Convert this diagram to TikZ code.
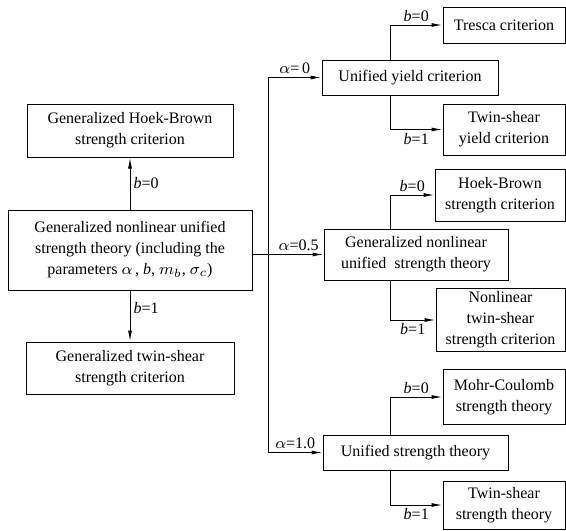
\documentclass[tikz,border=0pt]{standalone}
\usepackage{fontspec}
\setmainfont{Liberation Serif}
\usetikzlibrary{arrows.meta,positioning}

\begin{document}
\begin{tikzpicture}[x=0.5pt,y=-0.5pt,>={Latex[length=5.5pt,width=2pt]},font=\fontsize{8}{10.5}\selectfont]
            \tikzstyle{box}=[draw,rectangle,align=center,inner sep=0pt,line width=0.5pt]
            \tikzstyle{line}=[line width=0.5pt]
            \tikzstyle{lab}=[inner sep=1.5pt]
            \useasboundingbox (0,0) rectangle (566,530);

            % left column
            \node[box,minimum width=103pt,minimum height=26.5pt]  (ghb)    at (130,130.5) {Generalized Hoek-Brown\\strength criterion};
            \node[box,minimum width=122pt,minimum height=40pt]    (main)   at (130,250)   {Generalized nonlinear unified\\strength theory (including the\\parameters $\alpha$\,, \textit{b}, $m_b$, $\sigma_c$)};
            \node[box,minimum width=104pt,minimum height=26pt]    (gts)    at (130,368)   {Generalized twin-shear\\strength criterion};

            % middle column
            \node[box,minimum width=88pt,minimum height=17.5pt]   (uyc)    at (410,77.5)  {Unified yield criterion};
            \node[box,minimum width=92pt,minimum height=25.5pt]   (gnu)    at (416,254.5) {Generalized nonlinear\\unified\ \ strength theory};
            \node[box,minimum width=92.5pt,minimum height=17.5pt] (ust)    at (415.5,452.5) {Unified strength theory};

            % right column
            \node[box,minimum width=61pt,minimum height=18pt]     (tresca) at (504,25)    {Tresca criterion};
            \node[box,minimum width=61pt,minimum height=25.5pt]   (tsy)    at (504,129.5) {Twin-shear\\yield criterion};
            \node[box,minimum width=65pt,minimum height=26pt]     (hb)     at (500,195)   {Hoek-Brown\\strength criterion};
            \node[box,minimum width=64.5pt,minimum height=31.5pt] (ntw)    at (500.5,320) {Nonlinear\\twin-shear\\strength criterion};
            \node[box,minimum width=61pt,minimum height=27.5pt]   (mc)     at (504,397)   {Mohr-Coulomb\\strength theory};
            \node[box,minimum width=61pt,minimum height=24pt]     (tss)    at (504,505)   {Twin-shear\\strength theory};

            \coordinate (jmid) at (268,254.5);
            \coordinate (fork) at (390,0);

            % b from the main box
            \draw[line,->] (main) -- (ghb) node[lab,midway,right] {\textit{b}=0};
            \draw[line,->] (main) -- (gts) node[lab,pos=0.35,right] {\textit{b}=1};

            % alpha
            \draw[line,->] (main.east |- jmid) -- (gnu.west) node[lab,pos=0.65,above] {$\alpha$=0.5};
            \draw[line,->] (jmid) |- (uyc.west) node[lab,pos=0.75,above] {$\alpha$=\,0};
            \draw[line,->] (jmid) |- (ust.west) node[lab,pos=0.75,above] {$\alpha$=1.0};

            % b on the right
            \draw[line,->] (uyc.north -| fork) |- (tresca.west) node[lab,pos=0.75,above] {\textit{b}=0};
            \draw[line,->] (uyc.south -| fork) |- (tsy.west)    node[lab,pos=0.75,below] {\textit{b}=1};
            \draw[line,->] (gnu.north -| fork) |- (hb.west)     node[lab,pos=0.75,above] {\textit{b}=0};
            \draw[line,->] (gnu.south -| fork) |- (ntw.west)    node[lab,pos=0.75,below] {\textit{b}=1};
            \draw[line,->] (ust.north -| fork) |- (mc.west)     node[lab,pos=0.75,above] {\textit{b}=0};
            \draw[line,->] (ust.south -| fork) |- (tss.west)    node[lab,pos=0.75,below] {\textit{b}=1};
        \end{tikzpicture}
\end{document}
